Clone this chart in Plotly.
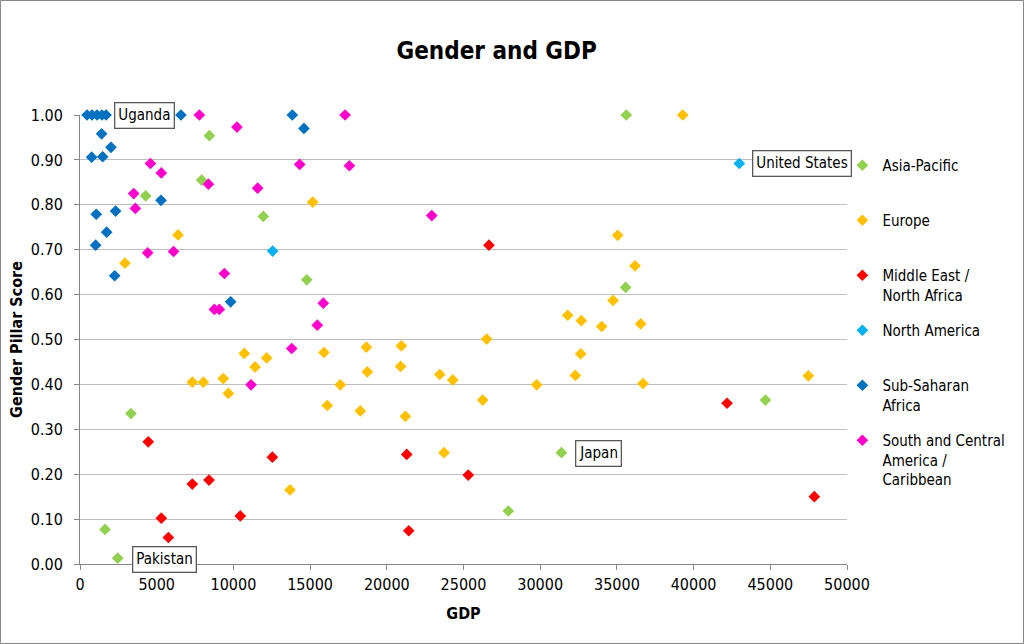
import plotly.graph_objects as go

# ---- data (GDP, Gender Pillar Score) ----
asia_x = [8430, 7930, 4280, 11950, 3320, 1630, 2460, 14780, 27920, 35610, 35570, 44680, 31380]
asia_y = [0.954, 0.855, 0.820, 0.774, 0.335, 0.077, 0.013, 0.633, 0.118, 1.00, 0.616, 0.365, 0.248]

europe_x = [6390, 2930, 10710, 12170, 11410, 7320, 8040, 9340, 9670, 15170, 26510, 15900, 18670,
            20950, 18730, 20900, 23450, 24300, 16970, 16120, 18270, 21210, 26250, 23730, 13690,
            39290, 35050, 36180, 34750, 31790, 32680, 34010, 36550, 32640, 29770, 32290, 36700, 47480]
europe_y = [0.733, 0.670, 0.469, 0.459, 0.439, 0.405, 0.405, 0.413, 0.380, 0.806, 0.501, 0.471, 0.483,
            0.486, 0.428, 0.440, 0.422, 0.410, 0.399, 0.353, 0.341, 0.329, 0.365, 0.248, 0.165,
            1.00, 0.732, 0.664, 0.587, 0.554, 0.542, 0.529, 0.535, 0.468, 0.399, 0.420, 0.402, 0.419]

mena_x = [4450, 12540, 7320, 8410, 5300, 10450, 5760, 26660, 21300, 25310, 21430, 42180, 47870]
mena_y = [0.272, 0.238, 0.178, 0.187, 0.102, 0.107, 0.059, 0.710, 0.244, 0.198, 0.074, 0.358, 0.150]

na_x = [12560, 42980]
na_y = [0.697, 0.892]

ssa_x = [460, 780, 1110, 1430, 1700, 6580, 13840, 14600, 1410, 2020, 760, 1480, 5280, 2320, 1060,
         1740, 1020, 2260, 9820]
ssa_y = [1.00, 1.00, 1.00, 1.00, 1.00, 1.00, 1.00, 0.970, 0.958, 0.928, 0.906, 0.907, 0.810, 0.786,
         0.779, 0.739, 0.710, 0.642, 0.584]

sca_x = [7780, 17280, 10230, 4590, 5300, 8370, 11580, 3500, 3610, 4410, 6100, 9410, 14320, 17560,
         22930, 15860, 15470, 8760, 9080, 13800, 11150]
sca_y = [1.00, 1.00, 0.973, 0.892, 0.871, 0.846, 0.837, 0.825, 0.792, 0.693, 0.696, 0.647, 0.890,
         0.887, 0.776, 0.581, 0.532, 0.567, 0.567, 0.480, 0.399]

series = [
    ("Asia-Pacific", asia_x, asia_y, "#92D050"),
    ("Europe", europe_x, europe_y, "#FFC000"),
    ("Middle East /<br>North Africa", mena_x, mena_y, "#FF0000"),
    ("North America", na_x, na_y, "#00B0F0"),
    ("Sub-Saharan<br>Africa", ssa_x, ssa_y, "#0070C0"),
    ("South and Central<br>America /<br>Caribbean", sca_x, sca_y, "#FF00CC"),
]

labels = [("Uganda", 4200, 1.00), ("United States", 47050, 0.891),
          ("Japan", 33790, 0.2457), ("Pakistan", 5530, 0.0096)]

x_ticks = list(range(0, 50001, 5000))
y_ticks = [i / 10 for i in range(0, 11)]

FONT = "DejaVu Sans Condensed, Liberation Sans Narrow, Liberation Sans, sans-serif"

fig = go.Figure()
legend_layout = {}
for i, (name, xs, ys, col) in enumerate(series):
    key = "legend" if i == 0 else f"legend{i + 1}"
    fig.add_trace(go.Scatter(
        x=xs, y=ys, mode="markers", name=name, legend=key,
        marker=dict(symbol="diamond", size=9, color=col, line=dict(width=0)),
        cliponaxis=False,
    ))
    centre_px = 165 + 55 * i
    legend_layout[key] = dict(
        x=0.994, xanchor="left", y=(564 - centre_px + 16) / 449, yanchor="top", valign="top",
        font=dict(family=FONT, size=15, color="black"), bgcolor="rgba(0,0,0,0)")

for text, lx, ly in labels:
    fig.add_annotation(x=lx, y=ly, text=text, showarrow=False,
                       font=dict(family=FONT, size=15, color="black"),
                       bgcolor="white", bordercolor="#595959", borderwidth=1.3, borderpad=3)

fig.add_shape(type="rect", xref="paper", yref="paper",
              x0=-0.1037, x1=1.2301, y0=-0.177, y1=1.255,
              line=dict(color="#868686", width=1), fillcolor="rgba(0,0,0,0)", layer="below")

fig.update_layout(
    width=1024, height=644,
    margin=dict(l=80, r=177, t=115, b=80),
    paper_bgcolor="white", plot_bgcolor="white",
    font=dict(family=FONT, size=16, color="black"),
    title=dict(text="<b>Gender and GDP</b>", x=0.485, xanchor="center", y=0.922, yanchor="middle",
               font=dict(family=FONT, size=24, color="black")),
    showlegend=True,
    **legend_layout,
)
fig.update_xaxes(range=[0, 50000], tickvals=x_ticks, tickformat="d", automargin=False,
                 showgrid=False, zeroline=False, showline=True, linecolor="#868686", linewidth=1,
                 ticks="outside", ticklen=5, tickcolor="#868686", ticklabelstandoff=1,
                 tickfont=dict(family=FONT, size=16),
                 title=dict(text="<b>GDP</b>", font=dict(family=FONT, size=16), standoff=14))
fig.update_yaxes(range=[0, 1.0], tickvals=y_ticks, tickformat=".2f", automargin=False,
                 showgrid=True, gridcolor="#BFBFBF", gridwidth=1.3, zeroline=False,
                 showline=True, linecolor="#868686", linewidth=1,
                 ticks="outside", ticklen=5, tickcolor="#868686", ticklabelstandoff=8,
                 tickfont=dict(family=FONT, size=16),
                 title=dict(text="<b>Gender Pillar Score</b>", font=dict(family=FONT, size=16), standoff=4))

fig.write_html("out.html", config={"displayModeBar": False},
               post_script="document.body.style.margin='0';")
